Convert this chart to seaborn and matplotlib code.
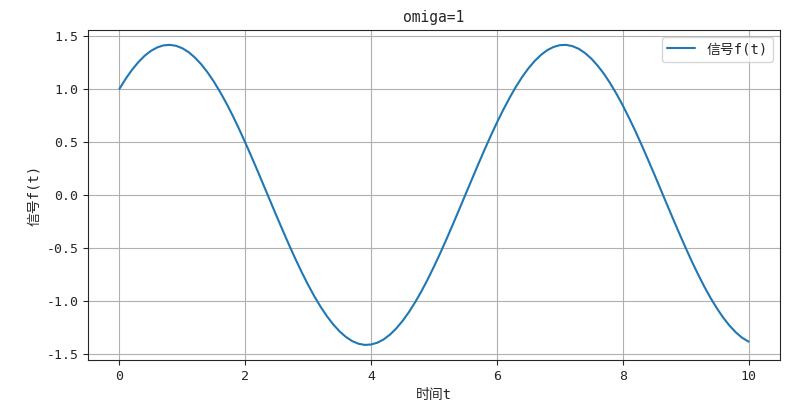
import matplotlib
matplotlib.use("Agg")
import matplotlib.pyplot as plt
import seaborn as sns
import pandas as pd

# values, every 0.1 of t
t = [round(0.1 * i, 1) for i in range(101)]
f = [1.000, 1.095, 1.179, 1.251, 1.311, 1.357, 1.390, 1.409, 1.414, 1.405,
     1.382, 1.345, 1.294, 1.231, 1.155, 1.068, 0.970, 0.863, 0.747, 0.623,
     0.493, 0.358, 0.220, 0.079, -0.062, -0.203, -0.341, -0.477, -0.607, -0.732,
     -0.849, -0.958, -1.057, -1.145, -1.222, -1.287, -1.339, -1.378, -1.403, -1.414,
     -1.410, -1.393, -1.362, -1.317, -1.259, -1.188, -1.106, -1.012, -0.909, -0.796,
     -0.675, -0.548, -0.415, -0.278, -0.138, 0.003, 0.144, 0.284, 0.421, 0.554,
     0.681, 0.801, 0.913, 1.017, 1.110, 1.192, 1.262, 1.319, 1.364, 1.394,
     1.411, 1.414, 1.402, 1.377, 1.337, 1.285, 1.219, 1.142, 1.053, 0.953,
     0.844, 0.726, 0.602, 0.471, 0.335, 0.197, 0.056, -0.086, -0.226, -0.364,
     -0.499, -0.629, -0.752, -0.868, -0.975, -1.072, -1.159, -1.234, -1.297, -1.347,
     -1.383]

sns.set_style("ticks")
plt.rcParams['font.family'] = ['DejaVu Sans Mono', 'Noto Sans CJK SC']
plt.rcParams['axes.unicode_minus'] = False

df = pd.DataFrame({"t": t, "f": f})

fig = plt.figure(figsize=(8, 4.09), dpi=100)
ax = fig.add_axes([0.11, 0.12, 0.865, 0.807])
sns.lineplot(data=df, x="t", y="f", ax=ax, color="#1f77b4", linewidth=1.5,
             label="信号f(t)")
ax.set_title("omiga=1", fontsize=10.5)
ax.set_xlabel("时间t", fontsize=10)
ax.set_ylabel("信号f(t)", fontsize=10)
ax.set_yticks([-1.5, -1.0, -0.5, 0.0, 0.5, 1.0, 1.5])
ax.tick_params(labelsize=9.5)
ax.grid(True, color="#b0b0b0", linewidth=0.8)
ax.legend(loc="upper right", fontsize=10)
fig.savefig("out.png", dpi=100)
